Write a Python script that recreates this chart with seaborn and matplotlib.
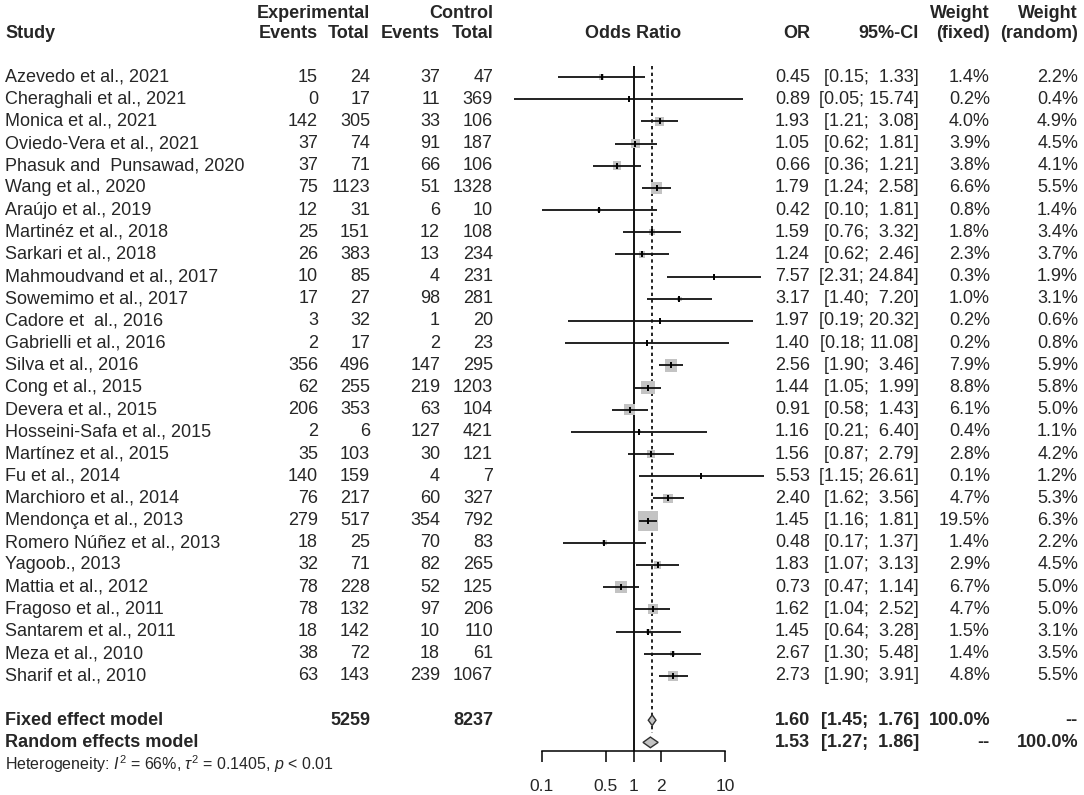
import numpy as np
import pandas as pd
import matplotlib
matplotlib.use("Agg")
import matplotlib.pyplot as plt
import seaborn as sns
from matplotlib.transforms import blended_transform_factory
from matplotlib.ticker import NullLocator, FixedLocator, FixedFormatter

# ---------------- data ----------------
studies = [
    "Azevedo et al., 2021", "Cheraghali et al., 2021", "Monica et al., 2021",
    "Oviedo-Vera et al., 2021", "Phasuk and  Punsawad, 2020", "Wang et al., 2020",
    "Araújo et al., 2019", "Martinéz et al., 2018", "Sarkari et al., 2018",
    "Mahmoudvand et al., 2017", "Sowemimo et al., 2017", "Cadore et  al., 2016",
    "Gabrielli et al., 2016", "Silva et al., 2016", "Cong et al., 2015",
    "Devera et al., 2015", "Hosseini-Safa et al., 2015", "Martínez et al., 2015",
    "Fu et al., 2014", "Marchioro et al., 2014", "Mendonça et al., 2013",
    "Romero Núñez et al., 2013", "Yagoob., 2013", "Mattia et al., 2012",
    "Fragoso et al., 2011", "Santarem et al., 2011", "Meza et al., 2010",
    "Sharif et al., 2010",
]
exp_events = [15, 0, 142, 37, 37, 75, 12, 25, 26, 10, 17, 3, 2, 356, 62, 206, 2, 35,
              140, 76, 279, 18, 32, 78, 78, 18, 38, 63]
exp_total = [24, 17, 305, 74, 71, 1123, 31, 151, 383, 85, 27, 32, 17, 496, 255, 353, 6,
             103, 159, 217, 517, 25, 71, 228, 132, 142, 72, 143]
ctrl_events = [37, 11, 33, 91, 66, 51, 6, 12, 13, 4, 98, 1, 2, 147, 219, 63, 127, 30,
               4, 60, 354, 70, 82, 52, 97, 10, 18, 239]
ctrl_total = [47, 369, 106, 187, 106, 1328, 10, 108, 234, 231, 281, 20, 23, 295, 1203,
              104, 421, 121, 7, 327, 792, 83, 265, 125, 206, 110, 61, 1067]
odds_ratio = [0.45, 0.89, 1.93, 1.05, 0.66, 1.79, 0.42, 1.59, 1.24, 7.57, 3.17, 1.97,
              1.40, 2.56, 1.44, 0.91, 1.16, 1.56, 5.53, 2.40, 1.45, 0.48, 1.83, 0.73,
              1.62, 1.45, 2.67, 2.73]
ci_low = [0.15, 0.05, 1.21, 0.62, 0.36, 1.24, 0.10, 0.76, 0.62, 2.31, 1.40, 0.19, 0.18,
          1.90, 1.05, 0.58, 0.21, 0.87, 1.15, 1.62, 1.16, 0.17, 1.07, 0.47, 1.04, 0.64,
          1.30, 1.90]
ci_high = [1.33, 15.74, 3.08, 1.81, 1.21, 2.58, 1.81, 3.32, 2.46, 24.84, 7.20, 20.32,
           11.08, 3.46, 1.99, 1.43, 6.40, 2.79, 26.61, 3.56, 1.81, 1.37, 3.13, 1.14,
           2.52, 3.28, 5.48, 3.91]
weight_fixed = [1.4, 0.2, 4.0, 3.9, 3.8, 6.6, 0.8, 1.8, 2.3, 0.3, 1.0, 0.2, 0.2, 7.9,
                8.8, 6.1, 0.4, 2.8, 0.1, 4.7, 19.5, 1.4, 2.9, 6.7, 4.7, 1.5, 1.4, 4.8]
weight_random = [2.2, 0.4, 4.9, 4.5, 4.1, 5.5, 1.4, 3.4, 3.7, 1.9, 3.1, 0.6, 0.8, 5.9,
                 5.8, 5.0, 1.1, 4.2, 1.2, 5.3, 6.3, 2.2, 4.5, 5.0, 5.0, 3.1, 3.5, 5.5]

pooled_labels = ["Fixed effect model", "Random effects model"]
pooled_or = [1.60, 1.53]
pooled_low = [1.45, 1.27]
pooled_high = [1.76, 1.86]
pooled_w_fixed = ["100.0%", "--"]
pooled_w_random = ["--", "100.0%"]
total_exp = 5259
total_ctrl = 8237
tick_values = [0.1, 0.5, 1, 2, 10]
tick_labels = ["0.1", "0.5", "1", "2", "10"]
heterogeneity = r"Heterogeneity: $I^2$ = 66%, $\tau^2$ = 0.1405, $p$ < 0.01"

df = pd.DataFrame({
    "study": studies, "ee": exp_events, "et": exp_total, "ce": ctrl_events,
    "ct": ctrl_total, "OR": odds_ratio, "lo": ci_low, "hi": ci_high,
    "wf": weight_fixed, "wr": weight_random,
})
df["row"] = np.arange(len(df))
n = len(df)
fixed_row, random_row, het_row = n + 1, n + 2, n + 3

# ---------------- style ----------------
sns.set_theme(style="white")
plt.rcParams["font.family"] = ["Liberation Sans", "DejaVu Sans"]
plt.rcParams["mathtext.fontset"] = "custom"
plt.rcParams["mathtext.rm"] = "Liberation Sans"
plt.rcParams["mathtext.it"] = "Liberation Sans:italic"
plt.rcParams["mathtext.bf"] = "Liberation Sans:bold"

W, H = 1084, 795
FS = 13
fig = plt.figure(figsize=(W / 100, H / 100), dpi=100)
fig.patch.set_facecolor("white")

row0_px, row_h = 77.0, 22.18


def prow(px):
    return (px - row0_px) / row_h


ax_left, ax_right, ax_bottom = 470, 790, 751
ax = fig.add_axes([ax_left / W, (H - ax_bottom) / H, (ax_right - ax_left) / W, ax_bottom / H])
ax.set_facecolor("none")
ax.set_xscale("log")

# squares sized by fixed weight (area proportional)
sns.scatterplot(data=df, x="OR", y="row", size="wf", sizes=(0, 205), size_norm=(0, 19.5),
                marker="s", color="#c3c3c3", edgecolor="none", linewidth=0,
                legend=False, ax=ax, zorder=2)
# confidence intervals
ax.hlines(df["row"], df["lo"], df["hi"], color="#111111", lw=1.3, zorder=3)
ax.scatter(df["OR"], df["row"], marker="|", s=22, color="black", linewidths=1.4, zorder=4)

# reference lines
ax.vlines(1, prow(66), prow(ax_bottom), color="black", lw=1.3, zorder=1)
ax.vlines(pooled_or[0], prow(66), prow(733), color="black", lw=1.2,
          linestyles=(0, (2, 2)), zorder=1)

# diamonds
half_h = 0.24
for est, lo, hi, r in zip(pooled_or, pooled_low, pooled_high, [fixed_row, random_row]):
    ax.fill([lo, est, hi, est], [r, r - half_h, r, r + half_h],
            facecolor="#c3c3c3", edgecolor="#303030", lw=1.0, zorder=3)

x_one, decade = 633.5, 91.5
ax.set_xlim(10 ** ((ax_left - x_one) / decade), 10 ** ((ax_right - x_one) / decade))
ax.set_ylim(prow(ax_bottom), prow(0))
ax.set_xlabel("")
ax.set_ylabel("")
ax.set_yticks([])
for s in ["top", "left", "right"]:
    ax.spines[s].set_visible(False)
ax.spines["bottom"].set_bounds(0.1, 10)
ax.spines["bottom"].set_color("black")
ax.spines["bottom"].set_linewidth(1.1)
ax.xaxis.set_major_locator(FixedLocator(tick_values))
ax.xaxis.set_major_formatter(FixedFormatter(tick_labels))
ax.xaxis.set_minor_locator(NullLocator())
ax.tick_params(axis="x", which="major", direction="out", length=8, width=1.1,
               color="black", labelsize=12.5, pad=12, bottom=True)

# ---------------- text columns ----------------
tr = blended_transform_factory(fig.transFigure, ax.transData)


def put(px, row, s, ha="right", bold=False, size=FS, **kw):
    ax.text(px / W, row, s, transform=tr, ha=ha, va="center", fontsize=size,
            fontweight="bold" if bold else "normal", clip_on=False, **kw)


h1, h2 = prow(13), prow(34)
put(370, h1, "Experimental", bold=True)
put(493, h1, "Control", bold=True)
put(990, h1, "Weight", bold=True)
put(1078, h1, "Weight", bold=True)
put(5, h2, "Study", ha="left", bold=True)
put(318, h2, "Events", bold=True)
put(370, h2, "Total", bold=True)
put(440, h2, "Events", bold=True)
put(493, h2, "Total", bold=True)
put(633, h2, "Odds Ratio", ha="center", bold=True)
put(810, h2, "OR", bold=True)
put(919, h2, "95%-CI", bold=True)
put(990, h2, "(fixed)", bold=True)
put(1078, h2, "(random)", bold=True)

for _, r in df.iterrows():
    y = r["row"]
    put(5, y, r["study"], ha="left")
    put(318, y, f"{int(r['ee'])}")
    put(370, y, f"{int(r['et'])}")
    put(440, y, f"{int(r['ce'])}")
    put(493, y, f"{int(r['ct'])}")
    put(810, y, f"{r['OR']:.2f}")
    put(919, y, f"[{r['lo']:.2f}; {r['hi']:>5.2f}]")
    put(990, y, f"{r['wf']:.1f}%")
    put(1078, y, f"{r['wr']:.1f}%")

for i, y in enumerate([fixed_row, random_row]):
    put(5, y, pooled_labels[i], ha="left", bold=True)
    put(810, y, f"{pooled_or[i]:.2f}", bold=True)
    put(919, y, f"[{pooled_low[i]:.2f}; {pooled_high[i]:>5.2f}]", bold=True)
    put(990, y, pooled_w_fixed[i], bold=True)
    put(1078, y, pooled_w_random[i], bold=True)
put(370, fixed_row, f"{total_exp}", bold=True)
put(493, fixed_row, f"{total_ctrl}", bold=True)
put(5, het_row, heterogeneity, ha="left", size=11.5)

fig.savefig("out.png", dpi=100, facecolor="white")
